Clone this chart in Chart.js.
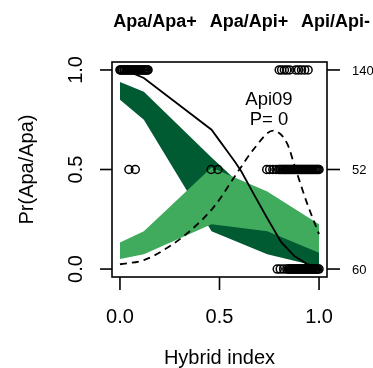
<!DOCTYPE html>
<html>
<head>
<meta charset="utf-8">
<script src="https://cdn.jsdelivr.net/npm/chart.js@4.4.1/dist/chart.umd.min.js"></script>
<style>
  html, body { margin: 0; padding: 0; background: #fff; }
  #wrap { width: 373px; height: 368px; }
</style>
</head>
<body>
<div id="wrap"><canvas id="cline"></canvas></div>
<script>
// genotype classes shown above the plot
const genotypeLabels = ["Apa/Apa+", "Apa/Api+", "Api/Api-"];
const locusName = "Api09";
const pValueText = "P= 0";

// tick values and labels
const xTicks = [0, 0.5, 1.0];
const yTicks = [0, 0.5, 1.0];
const rightTickValues = [1.0, 0.5, 0];
const rightTickLabels = ["140", "52", "60"];

// confidence band for Pr(Apa/Apa) (dark) and Pr(Apa/Api) (light)
const bandX = [0, 0.12, 0.46, 0.74, 1.0];
const darkUpper = [0.94, 0.89, 0.56, 0.30, 0.12];
const darkLower = [0.85, 0.75, 0.19, 0.074, 0.012];
const lightUpper = [0.133, 0.19, 0.51, 0.39, 0.225];
const lightLower = [0.05, 0.074, 0.225, 0.19, 0.082];

// fitted curves: solid = homozygote, dashed = heterozygote
const solidX = [0, 0.06, 0.12, 0.46, 0.50, 0.54, 0.58, 0.61, 0.67, 0.74, 0.81, 0.875, 0.94, 1.0];
const solidY = [0.99, 0.985, 0.96, 0.70, 0.645, 0.59, 0.535, 0.49, 0.38, 0.255, 0.135, 0.066, 0.025, 0.008];
const dashX = [0, 0.12, 0.24, 0.35, 0.47, 0.60, 0.67, 0.77, 0.84, 0.88, 0.94, 1.0];
const dashY = [0.024, 0.045, 0.108, 0.19, 0.31, 0.50, 0.60, 0.695, 0.63, 0.51, 0.33, 0.175];

// hybrid index of sampled individuals, per genotype
const apaApaX = [0.0, 0.004, 0.009, 0.013, 0.02, 0.024, 0.031, 0.036, 0.041, 0.047, 0.052, 0.058,
                 0.063, 0.068, 0.074, 0.079, 0.085, 0.09, 0.096, 0.101, 0.107, 0.112, 0.118,
                 0.123, 0.128, 0.133, 0.138, 0.141,
                 0.80, 0.812, 0.826, 0.838, 0.852, 0.883, 0.897, 0.912, 0.928, 0.945];
const apaApiX = [0.045, 0.077, 0.458, 0.492,
                 0.737, 0.752, 0.768, 0.784, 0.797, 0.803, 0.808, 0.815, 0.82, 0.826, 0.831,
                 0.836, 0.842, 0.847, 0.853, 0.858, 0.863, 0.869, 0.874, 0.879, 0.885, 0.89,
                 0.895, 0.9, 0.906, 0.911, 0.916, 0.922, 0.927, 0.932, 0.938, 0.943, 0.948,
                 0.953, 0.959, 0.964, 0.969, 0.975, 0.98, 0.985, 0.99, 0.995, 1.0];
const apiApiX = [0.79, 0.805, 0.822, 0.838, 0.846, 0.851, 0.856, 0.862, 0.867, 0.872, 0.878,
                 0.883, 0.888, 0.893, 0.899, 0.904, 0.909, 0.914, 0.92, 0.925, 0.93, 0.936,
                 0.941, 0.946, 0.951, 0.957, 0.962, 0.967, 0.972, 0.978, 0.983, 0.988, 0.994, 1.0];

const DARK = "#005A32";
const LIGHT = "#41AB5D";
const FONT = "'Liberation Sans', Arial, Helvetica, sans-serif";

function pts(xs, ys) { return xs.map((x, i) => ({ x: x, y: ys[i] })); }
function row(xs, y) { return xs.map(x => ({ x: x, y: y })); }

const bandStyle = { type: "line", borderColor: "transparent", borderWidth: 0, pointRadius: 0, tension: 0 };
const circleStyle = {
    type: "scatter", showLine: false, pointRadius: 4, pointStyle: "circle",
    pointBackgroundColor: "transparent", pointBorderColor: "#000", pointBorderWidth: 1.5, order: 0
};

// axes, box and all text, drawn on top of the library scales
const decorations = {
    id: "decorations",
    afterDraw(chart) {
        const ctx = chart.ctx;
        const area = chart.chartArea;
        const xs = chart.scales.x;
        const ys = chart.scales.y;
        ctx.save();
        ctx.strokeStyle = "#000";
        ctx.fillStyle = "#000";
        ctx.lineWidth = 1.6;
        ctx.strokeRect(area.left, area.top, area.right - area.left, area.bottom - area.top);

        // bottom axis
        ctx.font = "20px " + FONT;
        ctx.textAlign = "center";
        ctx.textBaseline = "alphabetic";
        xTicks.forEach(v => {
            const px = xs.getPixelForValue(v);
            ctx.beginPath();
            ctx.moveTo(px, area.bottom);
            ctx.lineTo(px, area.bottom + 13);
            ctx.stroke();
            ctx.fillText(v.toFixed(1), px, 323);
        });
        ctx.fillText("Hybrid index", (area.left + area.right) / 2, 364);

        // left axis, rotated labels
        yTicks.forEach(v => {
            const py = ys.getPixelForValue(v);
            ctx.beginPath();
            ctx.moveTo(area.left, py);
            ctx.lineTo(area.left - 12, py);
            ctx.stroke();
            ctx.save();
            ctx.translate(82, py);
            ctx.rotate(-Math.PI / 2);
            ctx.fillText(v.toFixed(1), 0, 0);
            ctx.restore();
        });
        ctx.save();
        ctx.translate(33, (area.top + area.bottom) / 2);
        ctx.rotate(-Math.PI / 2);
        ctx.fillText("Pr(Apa/Apa)", 0, 0);
        ctx.restore();

        // right axis with genotype counts
        ctx.font = "13px " + FONT;
        ctx.textAlign = "left";
        ctx.textBaseline = "middle";
        rightTickValues.forEach((v, i) => {
            const py = ys.getPixelForValue(v);
            ctx.beginPath();
            ctx.moveTo(area.right, py);
            ctx.lineTo(area.right + 13, py);
            ctx.stroke();
            ctx.fillText(rightTickLabels[i], 352, py + 1);
        });

        // genotype headings
        ctx.font = "bold 18px " + FONT;
        ctx.textAlign = "center";
        ctx.textBaseline = "alphabetic";
        const headX = [155, 249, 335.5];
        genotypeLabels.forEach((t, i) => ctx.fillText(t, headX[i], 26.5));

        // locus annotation
        ctx.font = "18.5px " + FONT;
        ctx.fillText(locusName, 269, 105);
        ctx.fillText(pValueText, 269, 125);
        ctx.restore();
    }
};

new Chart(document.getElementById("cline"), {
    type: "line",
    data: {
        datasets: [
            Object.assign({}, circleStyle, { data: row(apaApaX, 1.0) }),
            Object.assign({}, circleStyle, { data: row(apaApiX, 0.5) }),
            Object.assign({}, circleStyle, { data: row(apiApiX, 0.0) }),
            {
                data: pts(solidX, solidY), borderColor: "#000", borderWidth: 1.8,
                pointRadius: 0, tension: 0, fill: false, order: 1
            },
            {
                data: pts(dashX, dashY), borderColor: "#000", borderWidth: 1.8, borderDash: [7, 5],
                pointRadius: 0, cubicInterpolationMode: "monotone", fill: false, order: 1
            },
            Object.assign({}, bandStyle, { data: pts(bandX, lightUpper), backgroundColor: LIGHT, fill: "+1", order: 2 }),
            Object.assign({}, bandStyle, { data: pts(bandX, lightLower), fill: false, order: 2 }),
            Object.assign({}, bandStyle, { data: pts(bandX, darkUpper), backgroundColor: DARK, fill: "+1", order: 3 }),
            Object.assign({}, bandStyle, { data: pts(bandX, darkLower), fill: false, order: 3 })
        ]
    },
    options: {
        responsive: true,
        maintainAspectRatio: false,
        animation: false,
        layout: { padding: { left: 112, right: 46, top: 62, bottom: 91 } },
        scales: {
            x: { type: "linear", min: -0.04, max: 1.04, display: false },
            y: { type: "linear", min: -0.04, max: 1.04, display: false }
        },
        plugins: {
            legend: { display: false },
            tooltip: { enabled: false }
        }
    },
    plugins: [decorations]
});
</script>
</body>
</html>
